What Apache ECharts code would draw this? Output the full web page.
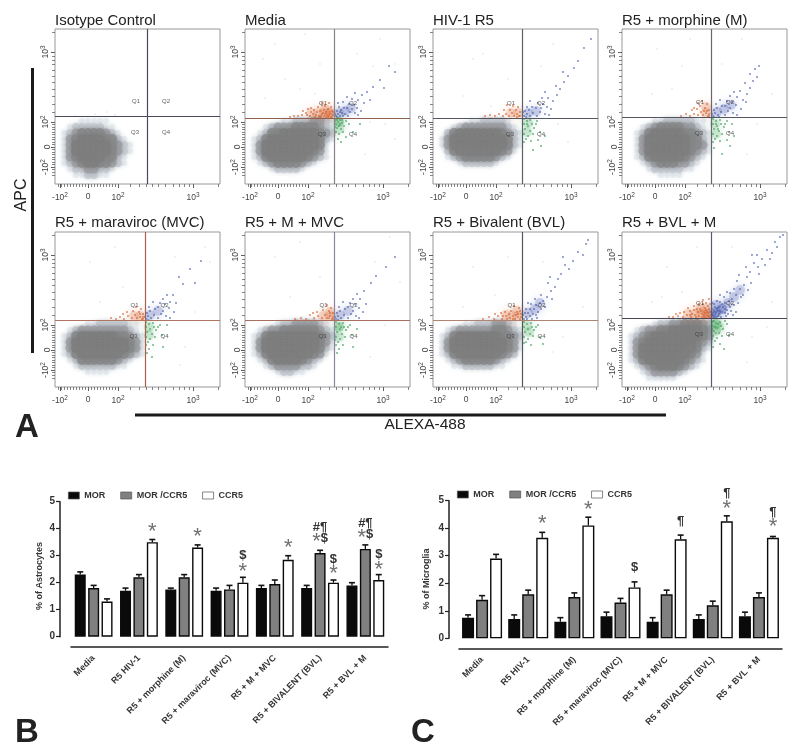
<!DOCTYPE html>
<html><head><meta charset="utf-8">
<style>html,body{margin:0;padding:0;background:#fff}#c{width:800px;height:752px}</style>
<script src="https://cdn.jsdelivr.net/npm/echarts@6/dist/echarts.min.js"></script>
</head><body><div id="c"></div>
<script>
// ---------- Panel A: flow cytometry (axis units: display channels of the biexponential scale)
const panelNames = ['Isotype Control','Media','HIV-1 R5','R5 + morphine (M)','R5 + maraviroc (MVC)','R5 + M + MVC','R5 + Bivalent (BVL)','R5 + BVL + M'];
const gateX = [92,89,89,89,90.5,89.5,89.5,89];
const gateY = [68,66,66,66.5,67,67,67,68.5];
const majorX = [5,33,63,138];
const majorXLabels = ['-10{s|2}','0','10{s|2}','10{s|3}'];
const minorX = [3,6,9,12,15,18,21,24,27,30,33,36,39,42,45,48,51,54,57,60,63,75,84,91,97,103,110,118,124,129,134,138,163];
const majorY = [17,37,62,132];
const majorYLabels = ['-10{s|2}','0','10{s|2}','10{s|3}'];
const minorY = [9,12,15,17,20,22,25,27,30,32,35,37,40,42,45,47,50,52,55,57,60,62,72,80,88,95,102,108,114,120,124,128,132,152];

// estimated density of the gray population, level 0-5, cells of 6 channels, rows from y=63 down to y=9
const grayDensity = [
 ['0000111110000000','0012222211000000','0123444432100000','0134555544210000','0135555554321000','0135555554321000','0134555544210000','0123455443210000','0012233221000000','0001122110000000'],
 ['0000001122233210','0001233344443210','0012445555554320','0124555555554210','0135555555554100','0135555555543100','0124555555432100','0012344443210000','0000122221000000','0000000000000000'],
 ['0000001122221000','0001233333332100','0024555555543210','0135555555554210','0135555555554210','0024555555543100','0012344444321000','0000122222100000','0000000000000000','0000000000000000'],
 ['0000011222221100','0001234444332100','0012455555443210','0013555555544210','0013555555544310','0013555555543210','0012455555432100','0001234443321000','0000122222110000','0000001111000000'],
 ['0000011222221100','0012333333332100','0124555555443210','0135555555554310','0135555555554310','0124555555543210','0012444444321000','0001222222110000','0000011110000000','0000000000000000'],
 ['0000012233332100','0012334444443210','0124555555554320','0135555555554310','0135555555554210','0124555555543100','0012455554321000','0001233332210000','0000012211000000','0000000000000000'],
 ['0000011222332100','0012333333443210','0124555555544320','0135555555554310','0135555555554310','0124555555543200','0012344444321000','0001122222110000','0000000000000000','0000000000000000'],
 ['0000012233444320','0012334455555430','0123455555555430','0134555555554320','0135555555554210','0135555555543100','0124555555432100','0012345554321000','0001233332100000','0000111110000000']
];
const orangeDots = [
 [],
 [[84,68],[86,70],[82,69],[79,68],[87,73],[85,72],[81,72],[77,70],[74,68],[71,69],[83,75],[86,77],[79,74],[75,73],[72,72],[68,70],[65,68],[62,69],[69,74],[66,72],[61,71],[57,69],[53,68],[58,73],[73,77],[80,78],[84,81],[77,81],[88,69],[87,67],[83,67],[78,71],[70,67],[75,67],[66,76],[49,68],[45,67],[63,75],[86,67],[81,67],[88,72],[84,70],[80,70],[76,68]],
 [[86,68],[84,70],[81,68],[87,72],[83,74],[79,71],[76,68],[73,70],[70,68],[66,70],[62,68],[57,69],[52,68],[77,74],[71,74],[85,77],[80,78],[74,79],[87,68],[84,67]],
 [[86,68],[84,71],[81,69],[87,74],[83,76],[79,72],[76,69],[72,70],[68,68],[64,70],[78,78],[85,80],[80,83],[75,75],[87,70],[82,73],[76,81],[70,74],[59,68],[87,68],[85,73],[72,76]],
 [[87,68],[85,70],[82,69],[88,73],[84,75],[80,72],[77,69],[73,71],[69,68],[65,70],[61,68],[56,69],[78,76],[72,75],[86,78],[81,80],[88,70],[85,73],[68,73],[88,68]],
 [[87,68],[85,71],[82,69],[88,74],[84,76],[80,72],[77,69],[73,71],[69,69],[65,72],[61,68],[56,69],[78,77],[72,75],[86,79],[82,82],[88,70],[85,74],[68,74],[50,68],[88,68],[84,69]],
 [[87,68],[85,70],[82,68],[88,73],[84,75],[80,71],[77,69],[73,71],[69,68],[65,71],[61,68],[56,70],[50,68],[78,76],[72,75],[86,79],[81,81],[88,70],[85,73],[68,74],[80,68],[76,73],[62,73],[83,72],[87,76],[74,68],[70,71]],
 [[87,70],[85,72],[82,70],[88,75],[84,77],[80,73],[77,71],[73,72],[69,70],[65,72],[61,70],[56,71],[51,70],[78,78],[72,77],[86,81],[81,83],[88,72],[85,75],[68,76],[80,70],[76,75],[62,75],[83,74],[87,78],[74,70],[70,73],[88,70],[86,71],[84,70],[82,72],[79,76],[75,78],[66,79],[58,74],[54,73],[77,83],[84,84],[87,88],[81,87],[72,81],[86,74],[83,79],[68,72],[47,70],[88,83]]
];
const blueDots = [
 [],
 [[91,68],[93,70],[95,68],[97,71],[92,73],[96,74],[100,70],[103,68],[105,72],[99,76],[94,77],[102,76],[107,75],[110,71],[113,69],[104,80],[109,79],[98,82],[93,81],[112,76],[116,73],[107,85],[113,84],[119,81],[102,87],[110,91],[117,89],[122,92],[128,97],[135,104],[144,118],[90,70],[92,67],[95,72],[98,68],[139,96],[150,112],[125,84]],
 [[91,68],[94,70],[97,68],[92,73],[96,74],[100,71],[104,68],[107,72],[99,77],[94,77],[103,76],[108,76],[112,70],[116,69],[105,81],[110,80],[97,83],[114,77],[118,75],[109,86],[115,86],[120,83],[124,89],[112,92],[127,95],[131,102],[123,98],[135,108],[130,112],[145,123],[158,145],[151,136],[141,116],[90,72],[93,67]],
 [[91,68],[93,71],[96,69],[92,74],[95,76],[99,72],[103,69],[106,73],[100,78],[94,80],[103,78],[108,76],[111,71],[115,69],[105,83],[110,82],[98,84],[114,79],[119,75],[108,88],[115,87],[121,84],[125,90],[112,92],[128,96],[131,103],[123,101],[135,107],[128,110],[137,118],[133,115],[124,82],[118,93],[90,70],[92,67],[97,67]],
 [[91,68],[93,71],[96,69],[92,74],[95,76],[99,72],[103,69],[106,73],[100,78],[94,80],[103,80],[108,76],[111,71],[115,69],[105,84],[110,83],[98,85],[114,79],[119,75],[108,88],[115,85],[121,84],[112,92],[118,92],[128,103],[124,110],[135,118],[90,70],[93,67],[146,126],[140,104]],
 [[91,68],[93,71],[96,69],[92,74],[95,76],[99,72],[103,69],[106,73],[100,78],[94,80],[103,80],[108,76],[111,71],[114,69],[105,84],[110,83],[98,85],[114,79],[118,75],[108,88],[115,88],[121,83],[112,93],[119,96],[126,104],[131,111],[141,120],[90,70],[93,67],[150,130]],
 [[91,68],[93,70],[95,74],[92,74],[97,71],[100,73],[104,69],[97,78],[101,78],[93,78],[105,75],[108,78],[103,82],[98,83],[107,84],[112,80],[95,84],[110,86],[114,90],[118,96],[122,100],[115,104],[125,108],[128,113],[132,122],[136,118],[140,126],[145,135],[150,132],[153,143],[155,147],[119,88],[108,92],[102,88],[90,72],[94,68],[99,68],[103,72],[117,110],[130,130]],
 [[91,70],[93,72],[95,76],[92,76],[97,73],[100,75],[104,71],[97,80],[101,80],[93,80],[105,77],[108,80],[103,84],[98,85],[107,86],[112,82],[95,86],[110,88],[114,92],[118,98],[122,102],[115,106],[125,110],[128,115],[132,124],[136,120],[140,128],[145,137],[150,134],[153,145],[158,150],[119,90],[108,94],[102,90],[90,72],[94,70],[99,70],[103,74],[117,112],[130,132],[91,74],[90,78],[92,83],[94,74],[96,71],[98,76],[100,83],[103,78],[106,73],[109,76],[111,72],[114,75],[116,84],[121,92],[126,97],[129,104],[124,120],[137,113],[143,122],[148,128],[155,140],[161,152],[135,132],[112,98],[105,95],[98,92],[92,70],[91,72],[93,75],[95,79],[90,84],[89.5,75]]
];
const greenDots = [
 [],
 [[91,65],[93,62],[95,64],[91,60],[94,58],[97,61],[92,56],[96,55],[99,58],[91,52],[94,50],[98,52],[101,63],[92,64],[95,60],[93,66],[90,63],[90,57],[104,60],[101,47],[93,45],[108,52],[96,42],[115,60],[97,64]],
 [[91,65],[94,63],[97,64],[91,60],[95,58],[99,60],[92,55],[97,53],[101,56],[91,50],[95,48],[100,50],[104,63],[93,45],[98,43],[107,52],[105,44],[112,48],[91,42],[103,60],[94,60],[108,38],[100,34]],
 [[91,65],[94,63],[98,64],[91,60],[95,58],[99,60],[92,55],[97,53],[102,57],[91,50],[95,48],[100,50],[105,63],[93,45],[98,43],[107,52],[105,44],[112,48],[91,42],[103,60],[94,60],[108,38],[92,36],[100,30],[96,55],[110,60]],
 [[91,65],[94,63],[98,64],[91,60],[95,58],[99,60],[92,55],[97,53],[101,57],[91,50],[95,48],[100,50],[105,62],[93,45],[98,42],[107,52],[91,42],[103,60],[108,40],[94,38],[97,30],[92,34],[112,62]],
 [[91,65],[94,63],[98,64],[91,60],[95,58],[99,60],[92,55],[97,53],[101,57],[91,50],[95,48],[100,50],[105,62],[93,45],[98,42],[107,52],[91,42],[103,60],[108,40],[94,38],[92,34],[112,58],[96,60],[90,47]],
 [[91,65],[94,63],[98,64],[91,60],[95,58],[99,60],[92,55],[97,53],[101,57],[91,50],[95,48],[100,51],[105,62],[93,45],[98,42],[107,50],[103,60],[110,43],[91,44]],
 [[91,66],[94,64],[98,65],[91,61],[95,59],[99,61],[92,56],[97,54],[101,58],[91,51],[95,49],[100,51],[105,63],[93,46],[98,43],[90,65],[90,58],[93,60],[96,63],[92,66],[94,54],[103,66],[90,48],[107,52],[102,38],[91,40]]
];
// estimated centres of the densest part of each coloured gate
const orangeCore = [[],[[85,71],[79,71],[73,71],[66,71],[85,71],[80,75]],[[85,71],[78,71]],[[84,71],[84,77]],[[85,71],[79,71]],[[85,71],[85,75],[78,71]],[[85,71],[79,71],[73,72],[84,76]],[[85,73],[85,73],[79,73],[73,73],[66,73],[84,78],[78,78]]];
const blueCore = [[],[[94,71],[100,73],[106,76]],[[95,71],[103,73]],[[95,72],[102,75],[109,79]],[[95,72],[103,76]],[[95,72],[103,76]],[[95,74],[102,78],[107,84]],[[94,74],[94,74],[100,78],[100,78],[106,84],[94,82],[112,90],[118,97]]];
const greenCore = [[],[[94,62],[94,62],[94,55]],[[95,61],[94,52]],[[93,60],[94,50]],[[94,60],[94,52]],[[94,60],[94,60],[94,50]],[[94,61],[96,55]],[[94,63],[94,63],[94,56],[97,60]]];
const strayDots = [
 [[40,70],[52,72],[60,69],[20,68]],
 [[30,140],[60,150],[75,120],[40,105],[112,130],[135,145],[128,118],[150,120],[18,125],[55,95],[70,90],[125,62],[140,60],[150,45],[120,30],[20,86]],
 [[40,125],[50,130],[58,78],[30,88],[75,105],[125,60],[135,42],[120,140],[108,118]],
 [[35,135],[60,118],[50,95],[68,145],[30,90],[120,145],[100,120],[135,60],[125,30],[150,90]],
 [[35,125],[60,140],[45,85],[68,100],[120,130],[155,125],[130,40],[140,75],[125,22],[150,140]],
 [[30,130],[55,145],[75,110],[45,90],[130,125],[145,150],[155,105],[125,30],[140,62]],
 [[40,120],[62,92],[30,80],[75,130],[130,50],[110,125],[120,35],[150,80]],
 [[45,120],[60,95],[30,85],[75,140],[110,140],[130,50],[145,60],[125,25],[150,85],[40,90]]
];

// ---------- Panels B and C: bar charts
const barCategories = ['Media','R5 HIV-1','R5 + morphine (M)','R5 + maraviroc (MVC)','R5 + M + MVC','R5 + BIVALENT (BVL)','R5 + BVL + M'];
const astroMOR = [2.3,1.7,1.75,1.7,1.8,1.8,1.9];
const astroMORCCR5 = [1.8,2.2,2.2,1.75,1.95,3.1,3.25];
const astroCCR5 = [1.3,3.5,3.3,2.0,2.85,2.0,2.1];
const astroMORTop = [2.4,1.8,1.8,1.8,1.9,1.9,2.0];
const astroMORCCR5Top = [1.9,2.3,2.3,1.9,2.1,3.2,3.4];
const astroCCR5Top = [1.4,3.6,3.4,2.2,3.0,2.1,2.3];
const microMOR = [0.75,0.7,0.6,0.8,0.6,0.7,0.8];
const microMORCCR5 = [1.4,1.6,1.5,1.3,1.6,1.2,1.5];
const microCCR5 = [2.9,3.65,4.1,1.85,3.6,4.25,3.65];
const microMORTop = [0.85,0.85,0.75,0.95,0.75,0.85,0.95];
const microMORCCR5Top = [1.55,1.75,1.65,1.45,1.75,1.35,1.65];
const microCCR5Top = [3.05,3.85,4.4,2.05,3.75,4.45,3.7];
// [category, bar in group, height on the value axis, text]
const astroMarks = [[1,2,4.0,'*'],[2,2,3.83,'*'],[3,2,3.0,'$'],[3,2,2.53,'*'],[4,2,3.4,'*'],[5,1,4.05,'#¶'],[5,1,3.64,'*$'],[5,2,2.87,'$'],[5,2,2.47,'*'],[6,1,4.2,'#¶'],[6,1,3.77,'*$'],[6,2,3.06,'$'],[6,2,2.59,'*']];
const microMarks = [[1,2,4.3,'*'],[2,2,4.79,'*'],[3,2,2.57,'$'],[4,2,4.24,'¶'],[5,2,5.25,'¶'],[5,2,4.81,'*'],[6,2,4.58,'¶'],[6,2,4.16,'*']];

// ---------- layout and style
const FONT = '"Liberation Sans", Arial, sans-serif';
const flowLeft = [55,245,433,622], flowTop = [29,232], flowW = 165, flowH = 155;
const levelColor = [null,'#e4e8ee','#c3c8cf','#9b9ea3','#87888a','#7e7e7e'];
const levelSize = [0,6,8,9,10,10];
const gateColors = [
 ['#4a4a58','#4a4a58'],['#8a808c','#92604f'],['#5f5f66','#555560'],['#6a6670','#555560'],
 ['#a9604c','#b07561'],['#8f84a0','#aa705f'],['#55555f','#b08472'],['#5b5b70','#47475a']
];
const sup = {s:{fontSize:6.5,fontFamily:FONT,color:'#444',verticalAlign:'bottom',lineHeight:12,padding:[0,0,5,0]}};

const grid=[], xAxis=[], yAxis=[], series=[], title=[];
panelNames.forEach((name,p)=>{
  const L = flowLeft[p%4], Tp = flowTop[p<4?0:1];
  grid.push({left:L,top:Tp,width:flowW,height:flowH,show:true,borderColor:'#98969c',borderWidth:1,backgroundColor:'#fff'});
  const xBase = {gridIndex:p,type:'value',position:'bottom',min:0,max:flowW,splitLine:{show:false},axisLine:{show:false,onZero:false}};
  const yBase = {gridIndex:p,type:'value',position:'left',min:0,max:flowH,splitLine:{show:false},axisLine:{show:false,onZero:false}};
  const xMain = xAxis.length, yMain = yAxis.length;
  xAxis.push({...xBase,
    axisTick:{show:true,customValues:majorX,length:4,lineStyle:{color:'#555',width:1}},
    axisLabel:{show:true,customValues:majorX,margin:8,fontSize:8.5,fontFamily:FONT,color:'#444',rich:sup,
      formatter:v=>majorXLabels[majorX.indexOf(v)]||''}});
  xAxis.push({...xBase,axisTick:{show:true,customValues:minorX,length:3,lineStyle:{color:'#666',width:.8}},axisLabel:{show:false}});
  yAxis.push({...yBase,
    axisTick:{show:true,customValues:majorY,length:4,lineStyle:{color:'#555',width:1}},
    axisLabel:{show:true,customValues:majorY,margin:3,rotate:90,fontSize:8.5,fontFamily:FONT,color:'#444',rich:sup,
      formatter:v=>majorYLabels[majorY.indexOf(v)]||''}});
  yAxis.push({...yBase,axisTick:{show:true,customValues:minorY,length:3,lineStyle:{color:'#666',width:.8}},axisLabel:{show:false}});
  title.push({text:name,left:L,top:Tp-(p<4?16:17),padding:0,textStyle:{fontFamily:FONT,fontSize:15,fontWeight:'normal',color:'#222'}});

  // anchor series so that the tick-only axes are drawn on the same grid
  series.push({type:'scatter',xAxisIndex:xMain+1,yAxisIndex:yMain+1,data:[],silent:true});

  const cells=[];
  grayDensity[p].forEach((row,r)=>{
    [...row].forEach((ch,c)=>{
      const lv=+ch; if(!lv) return;
      cells.push({lv,value:[3+6*c,63-6*r],symbolSize:levelSize[lv],
        itemStyle:{color:levelColor[lv],shadowBlur:4,shadowColor:levelColor[lv]}});
    });
  });
  cells.sort((a,b)=>a.lv-b.lv);
  const common={type:'scatter',xAxisIndex:xMain,yAxisIndex:yMain,silent:true,animation:false};
  series.push({...common,data:cells,symbol:'circle'});
  series.push({...common,data:strayDots[p],symbolSize:1.6,itemStyle:{color:'#cfd5dc'}});
  const soft=c=>({color:c,opacity:.2,shadowBlur:8,shadowColor:c});
  series.push({...common,data:orangeCore[p],symbolSize:10,itemStyle:soft('#d9622f')});
  series.push({...common,data:blueCore[p],symbolSize:10,itemStyle:soft('#3549a8')});
  series.push({...common,data:greenCore[p],symbolSize:10,itemStyle:soft('#3fa458')});
  series.push({...common,data:orangeDots[p],symbolSize:1.9,itemStyle:{color:'#d9622f',opacity:.8}});
  series.push({...common,data:blueDots[p],symbolSize:1.8,itemStyle:{color:'#4a5fae',opacity:.8}});
  series.push({...common,data:greenDots[p],symbolSize:1.9,itemStyle:{color:'#47a65f',opacity:.85}});
  const gx=gateX[p], gy=gateY[p];
  series.push({...common,symbolSize:0,
    data:[
      {value:[gx-11,gy+15],label:{formatter:'Q1'}},
      {value:[gx+19,gy+15],label:{formatter:'Q2'}},
      {value:[gx-12,gy-16],label:{formatter:'Q3'}},
      {value:[gx+19,gy-16],label:{formatter:'Q4'}}],
    label:{show:true,position:'inside',fontSize:6,fontFamily:FONT,color:'#333'},
    markLine:{silent:true,symbol:'none',animation:false,label:{show:false},
      data:[
        {xAxis:gx,lineStyle:{type:'solid',width:1.2,color:gateColors[p][0]}},
        {yAxis:gy,lineStyle:{type:'solid',width:1.2,color:gateColors[p][1]}}]}
  });
});

const barBlocks = [
 {left:71,width:317,top:501.7,height:135,off:10,yOff:11,barW:11,gap:2.4,
  vals:[astroMOR,astroMORCCR5,astroCCR5],tops:[astroMORTop,astroMORCCR5Top,astroCCR5Top],marks:astroMarks},
 {left:459,width:323,top:500.7,height:137.6,off:10,yOff:10,barW:12,gap:2,
  vals:[microMOR,microMORCCR5,microCCR5],tops:[microMORTop,microMORCCR5Top,microCCR5Top],marks:microMarks}
];
const barNames=['MOR','MOR /CCR5','CCR5'];
const barFill=['#0a0a0a','#808080','#ffffff'];
barBlocks.forEach(b=>{
  const gi=grid.length, xi=xAxis.length, yi=yAxis.length;
  grid.push({left:b.left,top:b.top,width:b.width,height:b.height});
  xAxis.push({gridIndex:gi,type:'category',data:barCategories,position:'bottom',offset:b.off,
    axisLine:{onZero:false,lineStyle:{color:'#222',width:1.5}},
    axisTick:{alignWithLabel:true,length:3,lineStyle:{color:'#222',width:1.2}},
    axisLabel:{interval:0,rotate:45,margin:10,fontSize:9,fontWeight:'bold',fontFamily:FONT,color:'#333'}});
  yAxis.push({gridIndex:gi,type:'value',position:'left',min:0,max:5,interval:1,offset:b.yOff,splitLine:{show:false},
    axisLine:{show:true,onZero:false,lineStyle:{color:'#222',width:1.5}},
    axisTick:{show:true,length:4,lineStyle:{color:'#222',width:1.2}},
    axisLabel:{margin:5,fontSize:10,fontWeight:'bold',fontFamily:FONT,color:'#333'}});
  const step=b.barW+b.gap;
  b.vals.forEach((vals,s)=>{
    series.push({type:'bar',name:barNames[s],xAxisIndex:xi,yAxisIndex:yi,data:vals,barWidth:b.barW,
      barGap:(b.gap/b.barW*100)+'%',animation:false,silent:true,
      itemStyle:{color:barFill[s],borderColor:'#0a0a0a',borderWidth:1.4}});
  });
  const errs=[];
  b.tops.forEach((tops,s)=>tops.forEach((t,c)=>errs.push([c,s,b.vals[s][c],t])));
  series.push({type:'custom',xAxisIndex:xi,yAxisIndex:yi,silent:true,animation:false,data:errs,z:5,
    encode:{x:0,y:3},
    renderItem:(params,api)=>{
      const c=api.value(0),s=api.value(1);
      const p0=api.coord([c,api.value(2)]),p1=api.coord([c,api.value(3)]);
      const x=p0[0]+(s-1)*step;
      const st={stroke:'#111',lineWidth:1.3,fill:null};
      return {type:'group',children:[
        {type:'line',shape:{x1:x,y1:p0[1],x2:x,y2:p1[1]},style:st},
        {type:'line',shape:{x1:x-3,y1:p1[1],x2:x+3,y2:p1[1]},style:{...st,lineWidth:1.6}}]};
    }});
  series.push({type:'custom',xAxisIndex:xi,yAxisIndex:yi,silent:true,animation:false,clip:false,z:6,
    data:b.marks,encode:{x:0,y:2},
    renderItem:(params,api)=>{
      const m=b.marks[params.dataIndex];
      const pt=api.coord([m[0],m[2]]);
      const txt=[...m[3]].map(ch=>ch==='*'?'{a|*}':'{b|'+ch+'}').join('');
      return {type:'text',x:pt[0]+(m[1]-1)*step,y:pt[1],style:{text:txt,align:'center',verticalAlign:'middle',
        rich:{a:{fontFamily:FONT,fontSize:22,fill:'#6f6f6f',padding:[7,0,0,0]},b:{fontFamily:FONT,fontSize:13,fontWeight:'bold',fill:'#333'}}}};
    }});
});

const T=(text,x,y,size,opt={})=>({type:'text',x,y,rotation:opt.rot||0,silent:true,
  style:{text,fontFamily:FONT,fontSize:size,fontWeight:opt.w||'normal',fill:opt.c||'#222',align:opt.a||'center',verticalAlign:'middle'}});
const R=(x,y,w,h)=>({type:'rect',silent:true,shape:{x,y,width:w,height:h},style:{fill:'#1a1a1a'}});

const legendCommon={itemWidth:11,itemHeight:7,icon:'rect',itemStyle:{borderWidth:.7,borderColor:'#555'},textStyle:{fontFamily:FONT,fontSize:9,fontWeight:'bold',color:'#333',padding:[0,0,0,0]},
  selectedMode:false,data:barNames,orient:'horizontal',padding:0};

const option={
  animation:false,backgroundColor:'#fff',
  title,grid,xAxis,yAxis,series,
  legend:[{...legendCommon,left:68,top:491,itemGap:15},{...legendCommon,left:457,top:490,itemGap:15}],
  graphic:[
    R(31,68,3,285),R(135,413.5,531,3),
    T('APC',22,195,16,{rot:Math.PI/2}),
    T('ALEXA-488',425,425,15.5),
    T('A',27,428,33,{w:'bold',c:'#222'}),
    T('B',27,733,33,{w:'bold',c:'#222'}),
    T('C',423,733,33,{w:'bold',c:'#222'}),
    T('% of Astrocytes',40,576,9,{rot:Math.PI/2,w:'bold',c:'#333'}),
    T('% of Microglia',427,579,9,{rot:Math.PI/2,w:'bold',c:'#333'})
  ]
};
echarts.init(document.getElementById('c'),null,{renderer:'canvas'}).setOption(option);
</script></body></html>
